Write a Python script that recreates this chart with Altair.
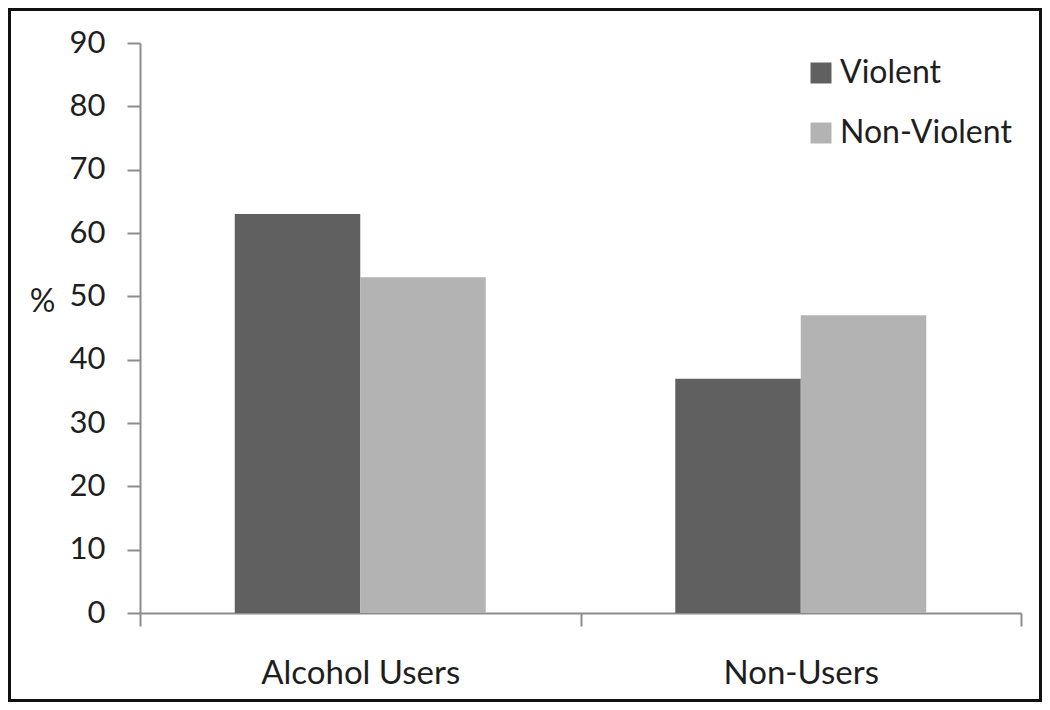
import altair as alt
import pandas as pd

groups = ["Alcohol Users", "Non-Users"]
series = ["Violent", "Non-Violent"]
violent = [63, 37]
non_violent = [53, 47]
y_ticks = [0, 10, 20, 30, 40, 50, 60, 70, 80, 90]
colors = ["#606060", "#b3b3b3"]

rows = []
for g, v, nv in zip(groups, violent, non_violent):
    rows.append({"group": g, "series": "Violent", "value": v})
    rows.append({"group": g, "series": "Non-Violent", "value": nv})
df = pd.DataFrame(rows)

FONT = "Lato"
TXT = "#1e1e1e"
AX = "#8c8c8c"

bars = alt.Chart(df).mark_bar().encode(
    x=alt.X("group:N", sort=groups,
            scale=alt.Scale(paddingInner=0, paddingOuter=0),
            axis=alt.Axis(title=None, labelAngle=0, labelFont=FONT, labelFontSize=33,
                          labelColor=TXT, labelPadding=57, labelBaseline="alphabetic",
                          labelLimit=0,
                          tickSize=13, tickColor=AX, tickWidth=2, domainColor=AX,
                          domainWidth=2, tickBand="extent", grid=False)),
    xOffset=alt.XOffset("series:N", sort=series,
                        scale=alt.Scale(paddingInner=0, paddingOuter=0.755)),
    y=alt.Y("value:Q", scale=alt.Scale(domain=[0, 90], nice=False),
            axis=alt.Axis(values=y_ticks, title="%", titleAngle=0, titleFont=FONT,
                          titleFontSize=32, titleFontWeight="normal", titleColor=TXT,
                          titleX=-98, titleY=258, titleAlign="center",
                          titleBaseline="middle",
                          labelFont=FONT, labelFontSize=31, labelColor=TXT,
                          labelPadding=22, tickSize=13, tickColor=AX, tickWidth=2,
                          domainColor=AX, domainWidth=2, grid=False)),
    color=alt.Color("series:N", sort=series,
                    scale=alt.Scale(domain=series, range=colors),
                    legend=alt.Legend(title=None, orient="none", legendX=665, legendY=14,
                                      symbolType="square", symbolSize=440,
                                      symbolStrokeWidth=0, labelFont=FONT,
                                      labelFontSize=32, labelColor=TXT, labelOffset=3,
                                      labelLimit=0, rowPadding=28, padding=0)),
)

frame = alt.Chart(alt.Data(values=[{"a": 1}])).mark_rect(
    filled=False, stroke="#111111", strokeWidth=3
).encode(
    x=alt.value(-130.5), x2=alt.value(900.5),
    y=alt.value(-33.5), y2=alt.value(657.5)
)

chart = alt.layer(bars, frame).properties(
    width=881, height=570,
    autosize=alt.AutoSizeParams(type="none"),
    padding={"left": 132, "top": 35, "right": 21, "bottom": 89},
    background="white",
).configure_view(stroke=None)

chart.save("out.html", embed_options={"renderer": "svg", "actions": False})
